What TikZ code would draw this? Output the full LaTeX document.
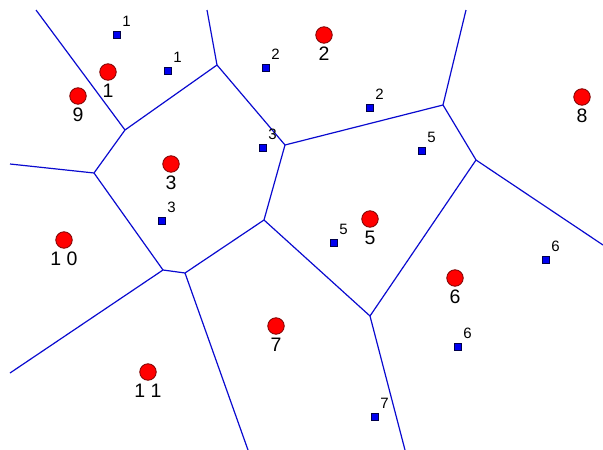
\documentclass[tikz,border=0pt]{standalone}
\usepackage{fontspec}
\setmainfont{Liberation Sans}
\usetikzlibrary{positioning}
\definecolor{cellblue}{HTML}{0A0ACF}
\definecolor{sitered}{HTML}{FF0000}
\definecolor{siterim}{HTML}{7A0000}
\definecolor{qblue}{HTML}{0000F0}
\definecolor{qrim}{HTML}{00004A}
\tikzset{
  cellline/.style={draw=cellblue,line width=1.2pt,line join=round},
  site/.style={circle,draw=siterim,fill=sitered,minimum size=16.5pt,inner sep=0pt,line width=0.8pt},
  sitelbl/.style={font=\fontsize{19.5}{19.5}\selectfont,inner sep=0pt},
  qpt/.style={rectangle,draw=qrim,fill=qblue,minimum size=6.5pt,inner sep=0pt,line width=0.8pt},
  qlbl/.style={font=\fontsize{15}{15}\selectfont,inner sep=0pt},
}
\begin{document}
\begin{tikzpicture}[x=1pt,y=-1pt]
\useasboundingbox (0,0) rectangle (603,450);
% cell vertices and free ends at the border
\foreach \n/\x/\y in {va/125/130,vb/217/65,vc/285/145,vd/94/173,ve/264/220,vf/443/105,vg/476/160,vh/163/270,vi/185/273,vj/370/316,
  ta/36/10,tb/207/10,tc/466/10,td/603/245,te/10/164,tf/10/373,tg/248/450,th/405/450}
  \coordinate (\n) at (\x,\y);
\foreach \a/\b in {ta/va,va/vb,vb/tb,vb/vc,va/vd,vd/te,vc/vf,vf/tc,vf/vg,vg/td,vc/ve,ve/vi,vd/vh,vh/vi,vh/tf,vi/tg,ve/vj,vg/vj,vj/th}
  \draw[cellline] (\a) -- (\b);
% sites
\foreach \i/\x/\y/\t in {1/108/72/1,9/78/96/9,3/171/164/3,2/324/35/2,8/582/97/8,5/370/219/5,10/64/240/1 0,6/455/278/6,7/276/326/7,11/148/372/1 1}{
  \node[site] (s\i) at (\x,\y) {};
  \node[sitelbl,below=3.5pt of s\i] (sl\i) {\t};
}
% query points
\foreach \i/\x/\y/\t in {1/117/35/1,2/168/71/1,3/266/68/2,4/263/148/3,5/162/221/3,6/370/108/2,7/422/151/5,8/334/243/5,9/546/260/6,10/458/347/6,11/375/417/7}{
  \node[qpt] (q\i) at (\x,\y) {};
  \node[qlbl,above right=4.5pt and 1.5pt of q\i] (ql\i) {\t};
}
\end{tikzpicture}
\end{document}
